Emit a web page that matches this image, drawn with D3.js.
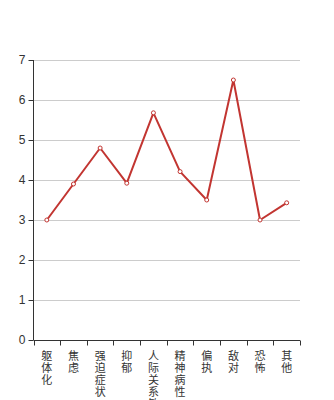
<!DOCTYPE html>
<html><head><meta charset="utf-8">
<script src="https://cdn.jsdelivr.net/npm/d3@7/dist/d3.min.js"></script>
<style>html,body{margin:0;padding:0;background:#fff;}svg{display:block;font-family:"Noto Sans CJK SC","DejaVu Sans",sans-serif;}</style>
</head><body>
<script>
const categories = ["躯体化","焦虑","强迫症状","抑郁","人际关系敏感","精神病性","偏执","敌对","恐怖","其他"];
const values = [3.0, 3.9, 4.8, 3.92, 5.68, 4.21, 3.5, 6.5, 3.0, 3.43];
const yTicks = [0,1,2,3,4,5,6,7];

const W = 334, H = 400;
const m = {left: 33.5, right: 34, top: 60, bottom: 60};
const svg = d3.select("body").append("svg").attr("width", W).attr("height", H);

const x = d3.scaleBand().domain(categories).range([m.left, W - m.right]);
const y = d3.scaleLinear().domain([0, 7]).range([H - m.bottom, m.top]);

// gridlines
svg.append("g").selectAll("line").data(yTicks.filter(d => d > 0)).join("line")
  .attr("x1", m.left).attr("x2", W - m.right)
  .attr("y1", d => Math.round(y(d)) + 0.5).attr("y2", d => Math.round(y(d)) + 0.5)
  .attr("stroke", "#ccc").attr("stroke-width", 1);

// y axis
const ya = svg.append("g").attr("transform", `translate(${m.left},0)`)
  .call(d3.axisLeft(y).tickValues(yTicks).tickFormat(d3.format("d")).tickSize(5).tickPadding(3));
ya.selectAll("text").attr("font-size", 12).attr("fill", "#333").attr("font-family", "Liberation Sans, Arial, sans-serif");
ya.selectAll("line,path").attr("stroke", "#333");
ya.select("path").attr("d", `M0,${y(0)}V${y(7)}`);

// x axis
const xa = svg.append("g").attr("transform", `translate(0,${y(0) + 0.5})`);
xa.append("line").attr("x1", m.left).attr("x2", W - m.right).attr("stroke", "#333");
const tickPos = categories.map(c => x(c)).concat([W - m.right]);
xa.selectAll("line.t").data(tickPos).join("line").attr("class","t")
  .attr("x1", d => Math.round(d) + 0.5).attr("x2", d => Math.round(d) + 0.5)
  .attr("y1", 0).attr("y2", 5).attr("stroke", "#333");
const lbl = xa.selectAll("text").data(categories).join("text")
  .attr("x", d => x(d) + x.bandwidth() / 2)
  .attr("text-anchor", "middle").attr("font-size", 11).attr("fill", "#333");
lbl.each(function(d) {
  const t = d3.select(this);
  Array.from(d).forEach((ch, i) => {
    t.append("tspan").attr("x", x(d) + x.bandwidth() / 2).attr("y", 19 + i * 12).text(ch);
  });
});

// line
const line = d3.line().x((d, i) => x(categories[i]) + x.bandwidth() / 2).y(d => y(d));
svg.append("path").datum(values).attr("d", line)
  .attr("fill", "none").attr("stroke", "#c23531").attr("stroke-width", 2).attr("stroke-linejoin", "bevel");
svg.append("g").selectAll("circle").data(values).join("circle")
  .attr("cx", (d, i) => x(categories[i]) + x.bandwidth() / 2).attr("cy", d => y(d))
  .attr("r", 2).attr("fill", "#fff").attr("stroke", "#c23531").attr("stroke-width", 1);
</script>
</body></html>
